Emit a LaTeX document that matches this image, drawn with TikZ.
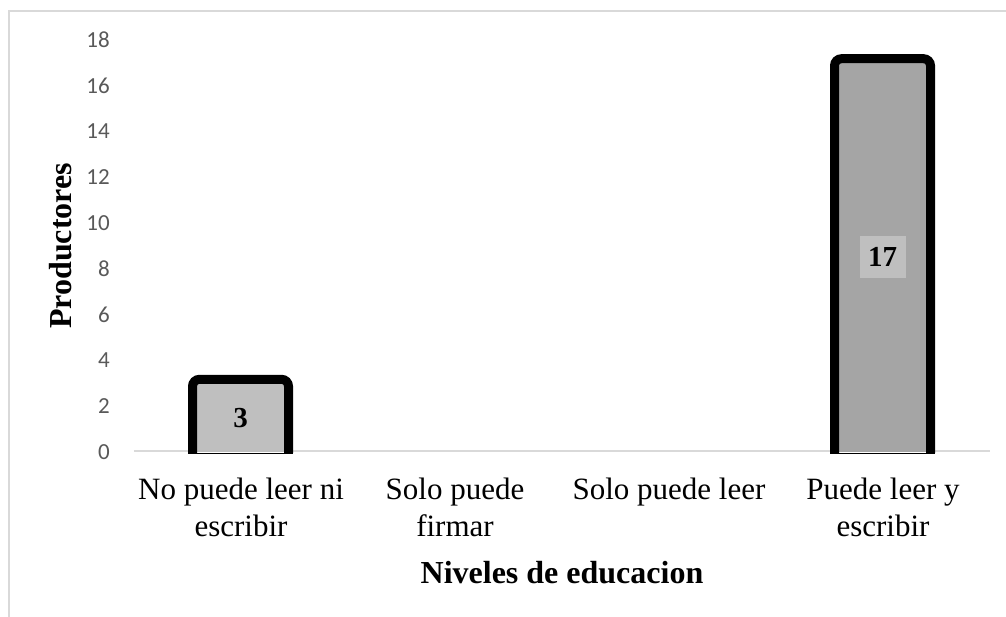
\documentclass[tikz,border=0pt]{standalone}
\usepackage{fontspec}
\setmainfont{Liberation Serif}
\newfontfamily\tickfont{Carlito}
\usetikzlibrary{positioning}
\definecolor{framegray}{HTML}{D9D9D9}
\definecolor{tickgray}{HTML}{595959}
\definecolor{barlight}{HTML}{BFBFBF}
\definecolor{bardark}{HTML}{A5A5A5}
\tikzset{
  frame/.style   ={draw=framegray, line width=1.5pt},
  axline/.style  ={draw=framegray, line width=2pt},
  ylab/.style    ={anchor=east, inner sep=0pt, text=tickgray, font=\tickfont\fontsize{23}{27}\selectfont},
  catlab/.style  ={anchor=north, inner sep=0pt, align=center, font=\fontsize{31}{37}\selectfont},
  axtitle/.style ={inner sep=0pt, font=\bfseries\fontsize{32}{38}\selectfont},
  barline/.style ={draw=black, line width=9pt, rounded corners=7pt},
  valbox/.style  ={inner sep=0pt, minimum width=46pt, minimum height=42pt, font=\bfseries\fontsize{29}{33}\selectfont}
}
\begin{document}
\begin{tikzpicture}[x=1pt,y=1pt]
\useasboundingbox (-134,-165) rectangle (872,452);
% chart area frame
\draw[frame] (-125,-170) -- (-125,441) -- (880,441);
% value axis
\foreach \v in {0,2,...,18}
  \node[ylab] (y\v) at (-24,\v*22.9) {\v};
\draw[axline] (0,0.8) -- (856,0.8);
% bars
\fill[barlight] (58.5,0) rectangle (154.5,68.7);
\draw[barline] (58.5,-1) -- (58.5,72.7) -- (154.5,72.7) -- (154.5,-1);
\draw[line width=1.5pt] (54,-1.3) -- (159,-1.3);
\fill[bardark] (700.5,0) rectangle (796.5,389.3);
\draw[barline] (700.5,-1) -- (700.5,393.3) -- (796.5,393.3) -- (796.5,-1);
\draw[line width=1.5pt] (696,-1.3) -- (801,-1.3);
\node[valbox, fill=barlight] (v1) at (106.5,34.35) {3};
\node[valbox, fill=barlight] (v4) at (748.5,194.65) {17};
% categories
\node[catlab] (c1) at (107,-26) {No puede leer ni\\escribir};
\node[catlab] (c2) at (321,-26) {Solo puede\\firmar};
\node[catlab] (c3) at (535,-26) {Solo puede leer};
\node[catlab] (c4) at (749,-26) {Puede leer y\\escribir};
% titles
\node[axtitle] (xt) at (428,-121) {Niveles de educacion};
\node[axtitle, rotate=90] (yt) at (-73,206) {Productores};
\end{tikzpicture}
\end{document}
